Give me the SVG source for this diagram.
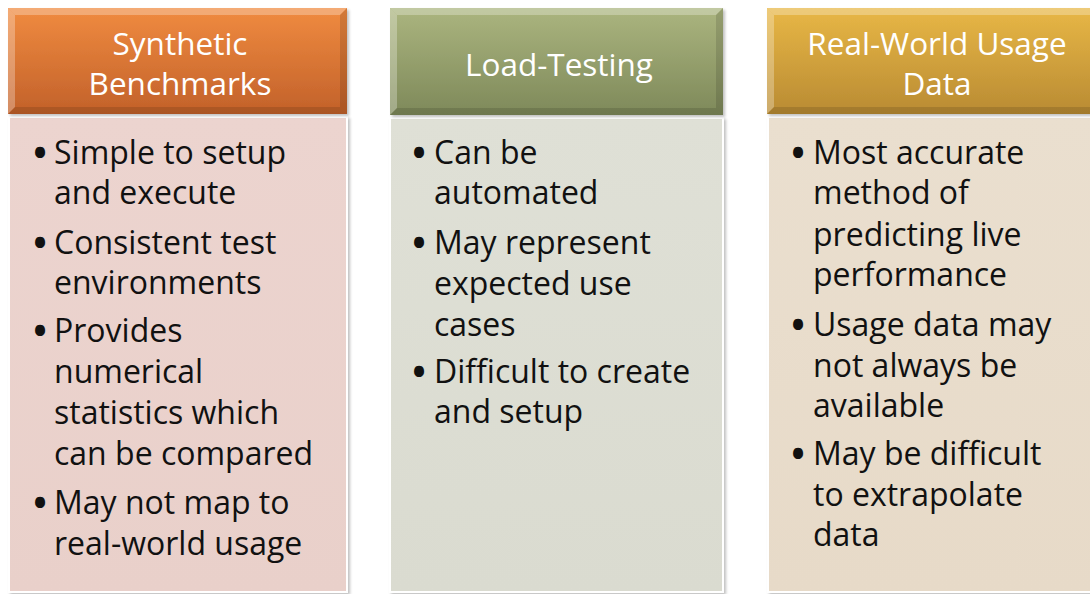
<svg xmlns="http://www.w3.org/2000/svg" width="1090" height="594" viewBox="0 0 1090 594">
<defs>
<linearGradient id="gO" x1="0" y1="0" x2="0" y2="1"><stop offset="0" stop-color="#f08b40"/><stop offset="1" stop-color="#c2612a"/></linearGradient>
<linearGradient id="gG" x1="0" y1="0" x2="0" y2="1"><stop offset="0" stop-color="#abb57f"/><stop offset="1" stop-color="#7e895a"/></linearGradient>
<linearGradient id="gY" x1="0" y1="0" x2="0" y2="1"><stop offset="0" stop-color="#e8b746"/><stop offset="1" stop-color="#b98b33"/></linearGradient>
<linearGradient id="bO" x1="0" y1="0" x2="0" y2="1"><stop offset="0" stop-color="#ecd4cf"/><stop offset="1" stop-color="#e9d0ca"/></linearGradient>
<linearGradient id="bG" x1="0" y1="0" x2="0" y2="1"><stop offset="0" stop-color="#dfe0d6"/><stop offset="1" stop-color="#dadbd0"/></linearGradient>
<linearGradient id="bY" x1="0" y1="0" x2="0" y2="1"><stop offset="0" stop-color="#eadfcf"/><stop offset="1" stop-color="#e7dac8"/></linearGradient>
<filter id="sh" x="-5%" y="-5%" width="110%" height="110%"><feGaussianBlur in="SourceAlpha" stdDeviation="1.5"/><feOffset dx="1.5" dy="1.5"/><feComponentTransfer><feFuncA type="linear" slope="0.25"/></feComponentTransfer><feMerge><feMergeNode/><feMergeNode in="SourceGraphic"/></feMerge></filter>
</defs>
<style>
.hd{font-family:"Open Sans","Noto Sans",sans-serif;font-size:31.5px;fill:#ffffff;text-anchor:middle}
.bd{font-family:"Open Sans","Noto Sans",sans-serif;font-size:32px;fill:#111111}
.bu{font-family:"Open Sans","Noto Sans",sans-serif;font-size:48px;fill:#111111}
.body{stroke:#ffffff;stroke-width:2}
.bl{fill:#ffffff;opacity:0.28}
.bk{fill:#000000;opacity:0.12}
</style>
<rect width="1090" height="594" fill="#ffffff"/>

<g id="node-synthetic">
<rect class="body" x="9" y="117" width="338" height="475" fill="url(#bO)" filter="url(#sh)"/>
<rect x="8" y="8" width="339" height="106" fill="url(#gO)" filter="url(#sh)"/>
<polygon class="bl" points="8,8 347,8 340,15 15,15"/>
<polygon class="bl" points="8,8 15,15 15,107 8,114"/>
<polygon class="bk" points="347,8 347,114 340,107 340,15"/>
<polygon class="bk" points="8,114 347,114 340,107 15,107"/>
<text class="hd" x="180" y="55">Synthetic</text>
<text class="hd" x="180" y="95">Benchmarks</text>
<text class="bu" x="31" y="170">•</text>
<text class="bd" x="54" y="164">Simple to setup</text>
<text class="bd" x="54" y="204">and execute</text>
<text class="bu" x="31" y="260">•</text>
<text class="bd" x="54" y="254">Consistent test</text>
<text class="bd" x="54" y="294">environments</text>
<text class="bu" x="31" y="348">•</text>
<text class="bd" x="54" y="342">Provides</text>
<text class="bd" x="54" y="383">numerical</text>
<text class="bd" x="54" y="424">statistics which</text>
<text class="bd" x="54" y="465">can be compared</text>
<text class="bu" x="31" y="520">•</text>
<text class="bd" x="54" y="514">May not map to</text>
<text class="bd" x="54" y="555">real-world usage</text>
</g>

<g id="node-loadtesting">
<rect class="body" x="390" y="118" width="333" height="474" fill="url(#bG)" filter="url(#sh)"/>
<rect x="390" y="8" width="333" height="107" fill="url(#gG)" filter="url(#sh)"/>
<polygon class="bl" points="390,8 723,8 716,15 397,15"/>
<polygon class="bl" points="390,8 397,15 397,108 390,115"/>
<polygon class="bk" points="723,8 723,115 716,108 716,15"/>
<polygon class="bk" points="390,115 723,115 716,108 397,108"/>
<text class="hd" x="559" y="76">Load-Testing</text>
<text class="bu" x="410" y="170">•</text>
<text class="bd" x="434" y="164">Can be</text>
<text class="bd" x="434" y="204">automated</text>
<text class="bu" x="410" y="260">•</text>
<text class="bd" x="434" y="254">May represent</text>
<text class="bd" x="434" y="295">expected use</text>
<text class="bd" x="434" y="336">cases</text>
<text class="bu" x="410" y="389">•</text>
<text class="bd" x="434" y="383">Difficult to create</text>
<text class="bd" x="434" y="423">and setup</text>
</g>

<g id="node-realworld">
<rect class="body" x="768" y="117" width="337" height="475" fill="url(#bY)" filter="url(#sh)"/>
<rect x="767" y="8" width="338" height="106" fill="url(#gY)" filter="url(#sh)"/>
<polygon class="bl" points="767,8 1105,8 1098,15 774,15"/>
<polygon class="bl" points="767,8 774,15 774,107 767,114"/>
<polygon class="bk" points="767,114 1105,114 1098,107 774,107"/>
<text class="hd" x="937" y="55">Real-World Usage</text>
<text class="hd" x="937" y="95">Data</text>
<text class="bu" x="789" y="170">•</text>
<text class="bd" x="813" y="164">Most accurate</text>
<text class="bd" x="813" y="204">method of</text>
<text class="bd" x="813" y="246">predicting live</text>
<text class="bd" x="813" y="286">performance</text>
<text class="bu" x="789" y="342">•</text>
<text class="bd" x="813" y="336">Usage data may</text>
<text class="bd" x="813" y="377">not always be</text>
<text class="bd" x="813" y="417">available</text>
<text class="bu" x="789" y="471">•</text>
<text class="bd" x="813" y="465">May be difficult</text>
<text class="bd" x="813" y="506">to extrapolate</text>
<text class="bd" x="813" y="546">data</text>
</g>

<g id="connectors"/>
</svg>
